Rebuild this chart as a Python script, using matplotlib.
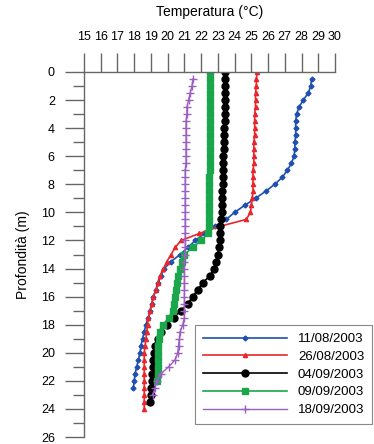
import numpy as np
import matplotlib
matplotlib.use('Agg')
import matplotlib.pyplot as plt
from matplotlib.ticker import MultipleLocator

plt.rcParams['font.family'] = ['Liberation Sans', 'DejaVu Sans']

# --- data (temperature in degC, depth in m) ---
d_1108 = [0.5, 1.0, 1.5, 2.0, 2.5, 3.0, 3.5, 4.0, 4.5, 5.0, 5.5, 6.0, 6.5, 7.0,
          7.5, 8.0, 8.5, 9.0, 9.5, 10.0, 10.5, 11.0, 11.5, 12.0, 12.5, 13.0,
          13.5, 14.0, 14.5, 15.0, 15.5, 16.0, 16.5, 17.0, 17.5, 18.0, 18.5,
          19.0, 19.5, 20.0, 20.5, 21.0, 21.5, 22.0, 22.5]
t_1108 = [28.6, 28.55, 28.4, 28.1, 27.85, 27.7, 27.65, 27.65, 27.65, 27.6,
          27.6, 27.55, 27.4, 27.15, 26.85, 26.4, 25.85, 25.25, 24.6, 24.0,
          23.5, 22.85, 22.2, 21.65, 21.2, 20.75, 20.2, 19.8, 19.6, 19.45,
          19.3, 19.15, 19.05, 18.95, 18.85, 18.7, 18.6, 18.5, 18.4, 18.35,
          18.25, 18.15, 18.05, 18.0, 17.95]

d_2608 = [0.0, 0.5, 1.0, 1.5, 2.0, 2.5, 3.0, 3.5, 4.0, 4.5, 5.0, 5.5, 6.0, 6.5,
          7.0, 7.5, 8.0, 8.5, 9.0, 9.5, 10.0, 10.5, 11.0, 11.5, 12.0, 12.5,
          13.0, 13.5, 14.0, 14.5, 15.0, 15.5, 16.0, 16.5, 17.0, 17.5, 18.0,
          18.5, 19.0, 19.5, 20.0, 20.5, 21.0, 21.5, 22.0, 22.5, 23.0, 23.5, 24.0]
t_2608 = [25.35, 25.3, 25.3, 25.25, 25.25, 25.25, 25.2, 25.2, 25.2, 25.2,
          25.15, 25.15, 25.15, 25.15, 25.1, 25.1, 25.1, 25.1, 25.05, 25.0,
          24.95, 24.7, 23.1, 21.9, 20.8, 20.45, 20.2, 19.95, 19.75, 19.55,
          19.4, 19.3, 19.15, 19.05, 18.95, 18.85, 18.8, 18.75, 18.7, 18.65,
          18.6, 18.6, 18.6, 18.6, 18.6, 18.6, 18.6, 18.6, 18.6]

d_0409 = [0.0, 0.5, 1.0, 1.5, 2.0, 2.5, 3.0, 3.5, 4.0, 4.5, 5.0, 5.5, 6.0, 6.5,
          7.0, 7.5, 8.0, 8.5, 9.0, 9.5, 10.0, 10.5, 11.0, 11.5, 12.0, 12.5,
          13.0, 13.5, 14.0, 14.5, 15.0, 15.5, 16.0, 16.5, 17.0, 17.5, 18.0,
          18.5, 19.0, 19.5, 20.0, 20.5, 21.0, 21.5, 22.0, 22.5, 23.0, 23.5]
t_0409 = [23.45, 23.45, 23.45, 23.45, 23.4, 23.4, 23.4, 23.4, 23.35, 23.35,
          23.35, 23.35, 23.3, 23.3, 23.3, 23.3, 23.3, 23.25, 23.25, 23.25,
          23.25, 23.2, 23.15, 23.1, 23.1, 23.05, 23.0, 22.9, 22.75, 22.55,
          22.1, 21.8, 21.5, 21.2, 20.8, 20.35, 19.95, 19.6, 19.4, 19.25,
          19.2, 19.1, 19.1, 19.05, 19.05, 19.0, 19.0, 18.95]

d_0909 = [0.0, 0.5, 1.0, 1.5, 2.0, 2.5, 3.0, 3.5, 4.0, 4.5, 5.0, 5.5, 6.0, 6.5,
          7.0, 7.5, 8.0, 8.5, 9.0, 9.5, 10.0, 10.5, 11.0, 11.5, 12.0, 12.5,
          13.0, 13.5, 14.0, 14.5, 15.0, 15.5, 16.0, 16.5, 17.0, 17.5, 18.0,
          18.5, 19.0, 19.5, 20.0, 20.5, 21.0, 21.5, 22.0]
t_0909 = [22.5, 22.5, 22.5, 22.5, 22.5, 22.5, 22.5, 22.5, 22.5, 22.5, 22.5,
          22.5, 22.5, 22.5, 22.5, 22.45, 22.45, 22.45, 22.45, 22.45, 22.45,
          22.45, 22.45, 22.4, 22.0, 21.5, 21.0, 20.85, 20.75, 20.6, 20.55,
          20.5, 20.45, 20.4, 20.3, 20.05, 19.75, 19.55, 19.5, 19.45, 19.45,
          19.4, 19.4, 19.4, 19.35]

d_1809 = [0.5, 1.0, 1.5, 2.0, 2.5, 3.0, 3.5, 4.0, 4.5, 5.0, 5.5, 6.0, 6.5, 7.0,
          7.5, 8.0, 8.5, 9.0, 9.5, 10.0, 10.5, 11.0, 11.5, 12.0, 12.5, 13.0,
          13.5, 14.0, 14.5, 15.0, 15.5, 16.0, 16.5, 17.0, 17.5, 18.0, 18.5,
          19.0, 19.5, 20.0, 20.5, 21.0, 21.5, 22.0, 22.5, 23.0]
t_1809 = [21.5, 21.45, 21.35, 21.25, 21.15, 21.15, 21.1, 21.1, 21.1, 21.1,
          21.1, 21.1, 21.1, 21.05, 21.05, 21.05, 21.05, 21.05, 21.05, 21.05,
          21.05, 21.05, 21.05, 21.05, 21.05, 21.05, 21.0, 21.0, 21.0, 21.0,
          21.0, 21.0, 21.0, 21.0, 21.0, 20.9, 20.75, 20.7, 20.65, 20.6,
          20.45, 20.05, 19.6, 19.35, 19.25, 19.1]

labels = ['11/08/2003', '26/08/2003', '04/09/2003', '09/09/2003', '18/09/2003']

fig = plt.figure(figsize=(3.74, 4.44), dpi=100)
ax = fig.add_axes([84/374, 1 - 437/444, (335 - 84)/374, (437 - 72)/444])

ax.plot(t_1108, d_1108, color='#1f4fb0', lw=1.2, marker='D', ms=2.5, label=labels[0])
ax.plot(t_2608, d_2608, color='#e8262b', lw=1.2, marker='^', ms=3, label=labels[1])
ax.plot(t_0409, d_0409, color='black', lw=1.2, marker='o', ms=5, label=labels[2])
ax.plot(t_0909, d_0909, color='#1aa64a', lw=1.2, marker='s', ms=4.5, label=labels[3])
ax.plot(t_1809, d_1809, color='#9b5fc0', lw=1.0, marker='+', ms=6, mew=1.0, label=labels[4])

ax.set_xlim(15, 30)
ax.set_ylim(26, 0)
ax.xaxis.tick_top()
ax.xaxis.set_label_position('top')
ax.set_xticks(np.arange(15, 31, 1))
ax.yaxis.set_major_locator(MultipleLocator(2))
ax.yaxis.set_minor_locator(MultipleLocator(1))

for s in ['right', 'bottom']:
    ax.spines[s].set_visible(False)
for s in ['left', 'top']:
    ax.spines[s].set_color('#666666')
    ax.spines[s].set_linewidth(1.0)

ax.tick_params(axis='x', which='major', direction='out', length=14, width=1.0,
               color='#666666', labelsize=9, pad=7)
ax.tick_params(axis='y', which='major', direction='out', length=14, width=1.0,
               color='#666666', labelsize=9, pad=7)
ax.tick_params(axis='y', which='minor', direction='out', length=8, width=1.0,
               color='#666666')

ax.set_xlabel('Temperatura (°C)', fontsize=10, labelpad=11)
ax.set_ylabel('Profondità (m)', fontsize=10, labelpad=8)

leg = ax.legend(loc='upper left', bbox_to_anchor=(195/374, 1 - 325/444),
                bbox_transform=fig.transFigure, borderaxespad=0,
                fontsize=9.5, numpoints=1, handlelength=6.4, handletextpad=0.8,
                labelspacing=0.42, borderpad=0.6, fancybox=False, framealpha=1)
leg.get_frame().set_edgecolor('#888888')
leg.get_frame().set_linewidth(0.8)

fig.savefig('out.png', dpi=100)
